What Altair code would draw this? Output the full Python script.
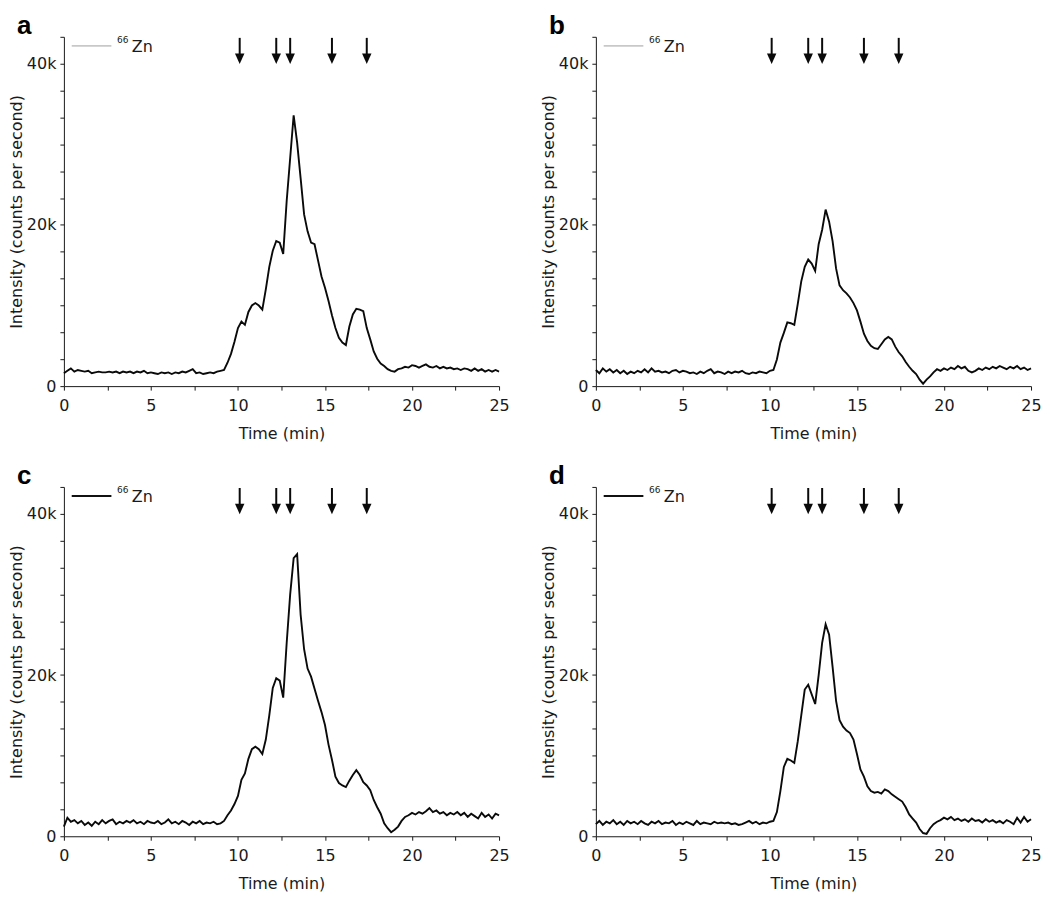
import altair as alt
import pandas as pd

# ---- data (intensity in thousands of counts per second, sampled every 0.2 min) ----
times = [round(i * 0.2, 1) for i in range(126)]

panel_a = [
    1.6, 1.9, 2.2, 1.8, 2.0, 1.9, 1.8, 1.9, 1.6, 1.7,
    1.8, 1.7, 1.7, 1.8, 1.7, 1.8, 1.6, 1.8, 1.7, 1.8,
    1.6, 1.8, 1.7, 1.9, 1.6, 1.7, 1.6, 1.5, 1.7, 1.6,
    1.7, 1.5, 1.7, 1.6, 1.8, 1.7, 1.9, 2.1, 1.6, 1.7,
    1.5, 1.6, 1.7, 1.6, 1.8, 1.9, 2.0, 2.9, 4.0, 5.5,
    7.2, 8.0, 7.6, 9.2, 10.0, 10.3, 10.0, 9.5, 12.0, 14.8,
    16.8, 18.0, 17.8, 16.4, 23.0, 28.3, 33.6, 30.2, 25.8, 21.3,
    19.2, 17.8, 17.6, 15.6, 13.6, 12.2, 10.6, 8.8, 7.2, 6.0,
    5.4, 5.1, 7.4, 8.9, 9.6, 9.5, 9.3, 7.2, 5.8, 4.3,
    3.4, 2.8, 2.5, 2.1, 1.9, 1.8, 2.1, 2.2, 2.4, 2.3,
    2.6, 2.5, 2.3, 2.5, 2.7, 2.4, 2.3, 2.5, 2.2, 2.4,
    2.2, 2.3, 2.1, 2.2, 2.0, 2.2, 2.1, 1.9, 2.2, 1.9,
    2.1, 1.8, 2.0, 1.8, 2.0, 1.8,
]

panel_b = [
    2.0, 1.6, 2.2, 1.8, 2.1, 1.7, 2.0, 1.6, 1.9, 1.5,
    1.8, 1.6, 1.9, 1.7, 2.1, 1.7, 2.2, 1.8, 1.9, 1.7,
    1.8, 1.6, 1.9, 2.0, 1.7, 1.9, 1.8, 1.6, 1.7, 1.5,
    1.8, 1.6, 1.9, 2.1, 1.6, 1.8, 1.7, 1.5, 1.8, 1.6,
    1.8, 1.7, 1.9, 1.6, 1.5, 1.7, 1.6, 1.8, 1.7, 1.6,
    1.9, 2.0, 3.3, 5.4, 6.6, 7.9, 7.8, 7.6, 10.2, 13.0,
    14.8, 15.7, 15.2, 14.3, 17.6, 19.4, 21.9, 20.4, 18.0, 14.6,
    12.5, 11.9, 11.5, 11.0, 10.3, 9.4, 8.0, 6.5, 5.6, 5.0,
    4.7, 4.6, 5.2, 5.8, 6.1, 5.8, 4.9, 4.2, 3.7, 3.0,
    2.4, 1.9, 1.5, 0.8, 0.3, 0.8, 1.2, 1.7, 2.1, 1.9,
    2.2, 2.0, 2.3, 2.1, 2.5, 2.2, 2.4, 1.9, 1.7, 1.9,
    2.2, 2.0, 2.3, 2.1, 2.4, 2.2, 2.5, 2.3, 2.1, 2.4,
    2.2, 2.5, 2.1, 2.3, 2.0, 2.2,
]

panel_c = [
    1.2, 2.3, 1.8, 2.0, 1.6, 1.9, 1.4, 1.7, 1.3, 1.8,
    1.5, 2.0, 1.6, 1.9, 2.1, 1.5, 1.8, 1.6, 1.9, 1.7,
    2.0, 1.6, 1.8, 1.5, 1.9, 1.7, 1.6, 1.9, 1.5, 1.7,
    2.1, 1.6, 1.8, 1.5, 1.9, 1.7, 1.4, 1.8, 1.6, 1.9,
    1.5, 1.7, 1.6, 1.8, 1.5, 1.6, 1.9, 2.6, 3.2, 4.0,
    5.0, 7.0, 7.8, 9.6, 10.8, 11.1, 10.8, 10.2, 12.0, 15.0,
    18.4, 19.6, 19.3, 17.2, 24.0, 30.0, 34.5, 35.0, 27.5, 23.2,
    20.8, 19.8, 18.3, 16.8, 15.4, 13.8, 11.4, 9.5, 7.4, 6.6,
    6.3, 6.1, 6.9, 7.6, 8.2, 7.6, 6.7, 6.3, 5.7, 4.5,
    3.6, 2.8, 1.6, 1.0, 0.5, 0.8, 1.2, 1.9, 2.4, 2.6,
    2.9, 2.7, 3.0, 2.8, 3.1, 3.5, 3.0, 3.2, 2.8, 3.0,
    2.6, 2.9, 2.7, 3.0, 2.6, 2.9, 2.4, 2.8, 2.5, 2.2,
    2.9, 2.4, 2.7, 2.2, 2.8, 2.6,
]

panel_d = [
    1.5, 1.9, 1.4, 1.8, 1.6, 2.0, 1.5, 1.8, 1.4, 1.9,
    1.6, 1.8, 1.5, 1.9, 1.6, 1.4, 1.8, 1.6, 1.9, 1.5,
    1.7, 1.6, 1.9, 1.4, 1.7, 1.5, 1.8, 1.6, 1.4, 1.9,
    1.5, 1.7, 1.6, 1.5, 1.8, 1.6, 1.7, 1.6, 1.7, 1.5,
    1.6, 1.4, 1.5, 1.7, 1.9, 1.6, 1.8, 1.5, 1.7, 1.6,
    1.8, 1.9, 3.0, 5.6, 8.6, 9.6, 9.4, 9.1, 11.8, 15.0,
    18.2, 18.8, 17.6, 16.4, 20.0, 24.0, 26.3, 25.0, 21.0, 16.8,
    14.4, 13.6, 13.1, 12.8, 12.0, 10.2, 8.3, 7.4, 6.2, 5.6,
    5.4, 5.5, 5.3, 5.8, 5.6, 5.2, 4.9, 4.6, 4.3, 3.6,
    2.7, 2.2, 1.7, 0.9, 0.4, 0.3, 1.0, 1.5, 1.8, 2.0,
    2.3, 2.1, 2.4, 2.0, 2.2, 1.9, 2.1, 1.8, 2.2, 1.9,
    2.0, 1.7, 2.1, 1.8, 2.0, 1.7, 1.9, 1.6, 2.0, 1.8,
    1.5, 2.3, 1.7, 2.4, 1.8, 2.1,
]

arrow_times = [10.1, 12.2, 13.0, 15.4, 17.4]
arrow_top = 43.2
arrow_head = 40.6

x_ticks = [0, 2.5, 5, 7.5, 10, 12.5, 15, 17.5, 20, 22.5, 25]
y_max = 43.3333
y_ticks = [round(i * 10 / 3, 4) for i in range(14)]

letters = ["a", "b", "c", "d"]
legend_colors = ["#a0a0a0", "#a0a0a0", "#111111", "#111111"]
legend_widths = [1, 1, 2, 2]
legend_x = [0.45, 2.73]
legend_y = 42.2

FONT = "DejaVu Sans"
INK = "#1a1a1a"
TRACE = "#0a0a0a"

xs = alt.Scale(domain=[0, 25], nice=False, zero=False)
ys = alt.Scale(domain=[0, y_max], nice=False, zero=True)

x_axis = alt.Axis(
    values=x_ticks,
    labelExpr="datum.value % 5 == 0 ? datum.label : ''",
    labelPadding=7,
    titlePadding=12,
    labelOverlap=False,
    labelFlush=False,
)
y_axis = alt.Axis(
    values=y_ticks,
    labelExpr="datum.value == 0 ? '0' : abs(datum.value - 20) < 0.01 ? '20k' : abs(datum.value - 40) < 0.01 ? '40k' : ''",
    labelPadding=4,
    titlePadding=2,
    labelOverlap=False,
    labelFlush=False,
)

ARROW_PATH = "M -0.9 -1 L 0.9 -1 L 0 1 Z"


def panel(idx, vals):
    X = lambda f: alt.X(f"{f}:Q", scale=xs, axis=x_axis, title="Time (min)")
    Y = lambda f: alt.Y(f"{f}:Q", scale=ys, axis=y_axis, title="Intensity (counts per second)")

    df = pd.DataFrame({"t": times, "v": vals})
    line = alt.Chart(df).mark_line(color=TRACE, strokeWidth=1.9).encode(x=X("t"), y=Y("v"))

    adf = pd.DataFrame({"t": arrow_times,
                        "v": [arrow_top] * len(arrow_times),
                        "v2": [arrow_head] * len(arrow_times)})
    shafts = alt.Chart(adf).mark_rule(color=TRACE, strokeWidth=2).encode(
        x=X("t"), y=Y("v"), y2="v2")
    heads = alt.Chart(adf).mark_point(
        shape=ARROW_PATH, filled=True, size=110, color=TRACE, opacity=1, strokeWidth=0
    ).encode(x=X("t"), y=Y("v2"))

    ldf = pd.DataFrame({"t": [legend_x[0]], "t2": [legend_x[1]], "v": [legend_y]})
    legline = alt.Chart(ldf).mark_rule(
        color=legend_colors[idx], strokeWidth=legend_widths[idx]
    ).encode(x=X("t"), x2="t2", y=Y("v"))

    sdf = pd.DataFrame({"t": [3.05], "v": [42.6], "s": ["66"]})
    sup = alt.Chart(sdf).mark_text(
        align="left", baseline="alphabetic", fontSize=9, font=FONT, color=INK
    ).encode(x=X("t"), y=Y("v"), text="s:N")

    zdf = pd.DataFrame({"t": [3.9], "v": [41.5], "s": ["Zn"]})
    zn = alt.Chart(zdf).mark_text(
        align="left", baseline="alphabetic", fontSize=16, font=FONT, color=INK
    ).encode(x=X("t"), y=Y("v"), text="s:N")

    pdf = pd.DataFrame({"s": [letters[idx]]})
    lett = alt.Chart(pdf).mark_text(
        align="left", baseline="alphabetic", fontSize=26, fontWeight="bold",
        font="Liberation Sans", color="#000000"
    ).encode(x=alt.value(-47), y=alt.value(-3), text="s:N")

    return alt.layer(line, shafts, heads, legline, sup, zn, lett).properties(
        width=436, height=350)


row1 = alt.hconcat(panel(0, panel_a), panel(1, panel_b), spacing=30)
row2 = alt.hconcat(panel(2, panel_c), panel(3, panel_d), spacing=30)

chart = (
    alt.vconcat(row1, row2, spacing=22)
    .properties(padding={"left": 0, "top": 4, "right": 0, "bottom": 0}, background="white")
    .configure(font=FONT)
    .configure_view(stroke=None)
    .configure_axis(
        grid=False,
        domainColor=INK,
        tickColor=INK,
        labelColor=INK,
        titleColor=INK,
        labelFont=FONT,
        titleFont=FONT,
        labelFontSize=16,
        titleFontSize=16,
        titleFontWeight="normal",
        tickSize=4,
        domainWidth=1,
        tickWidth=1,
    )
)

chart.save("out.html", embed_options={"renderer": "svg", "actions": False})
